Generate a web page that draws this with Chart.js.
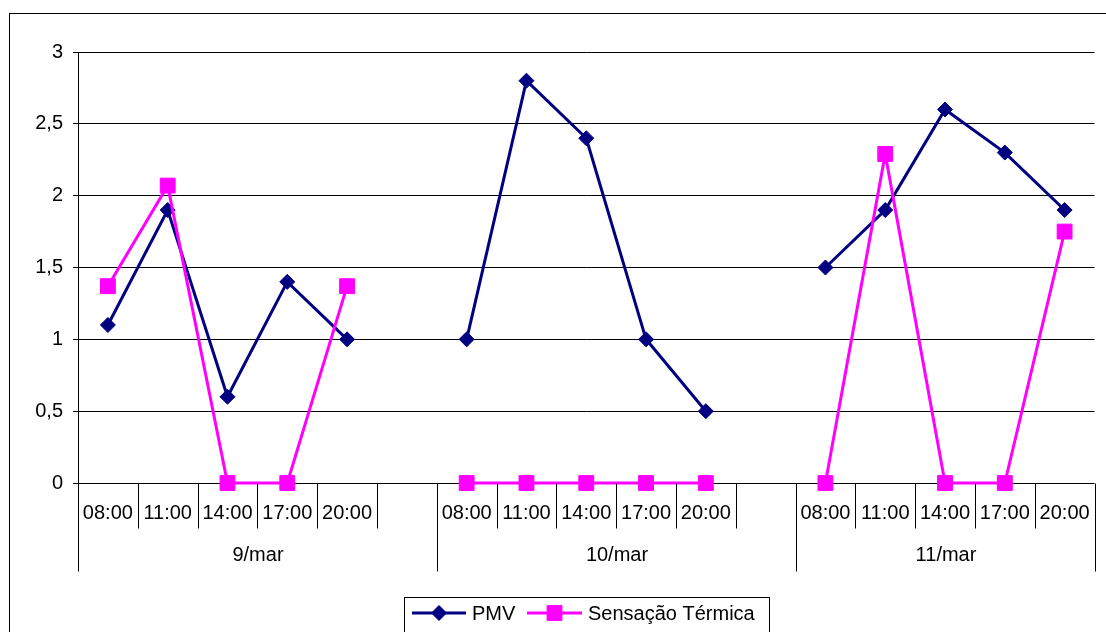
<!DOCTYPE html>
<html>
<head>
<meta charset="utf-8">
<script src="https://cdn.jsdelivr.net/npm/chart.js@4/dist/chart.umd.min.js"></script>
<style>
  html, body { margin: 0; padding: 0; background: #ffffff; }
  #wrap { width: 1106px; height: 632px; }
</style>
</head>
<body>
<div id="wrap"><canvas id="chart" width="1106" height="632"></canvas></div>
<script>
// Measurement times and days
const timeLabels = ['08:00', '11:00', '14:00', '17:00', '20:00'];
const dayLabels = ['9/mar', '10/mar', '11/mar'];

// PMV per day
const pmv9 = [1.1, 1.9, 0.6, 1.4, 1.0];
const pmv10 = [1.0, 2.8, 2.4, 1.0, 0.5];
const pmv11 = [1.5, 1.9, 2.6, 2.3, 1.9];

// Sensação térmica per day
const sens9 = [1.37, 2.07, 0, 0, 1.37];
const sens10 = [0, 0, 0, 0, 0];
const sens11 = [0, 2.29, 0, 0, 1.75];

// Y axis ticks
const yTicks = [0, 0.5, 1, 1.5, 2, 2.5, 3];

const FONT = '"Liberation Sans", Arial, sans-serif';

// Days are separated by one empty category slot
function joinDays(parts, gap) {
  const out = [];
  parts.forEach((p, i) => {
    out.push(...p);
    if (i < parts.length - 1) out.push(gap);
  });
  return out;
}
const categories = joinDays(dayLabels.map(d => timeLabels.map(t => d + ' ' + t)), '');
const pmvValues = joinDays([pmv9, pmv10, pmv11], null);
const sensValues = joinDays([sens9, sens10, sens11], null);

// Two-level category axis, frame and legend box
const excelFrame = {
  id: 'excelFrame',
  beforeDraw(chart) {
    const ctx = chart.ctx;
    ctx.save();
    ctx.fillStyle = '#ffffff';
    ctx.fillRect(0, 0, chart.width, chart.height);
    ctx.restore();
  },
  afterDraw(chart) {
    const ctx = chart.ctx;
    const x = chart.scales.x;
    const area = chart.chartArea;
    const step = x.getPixelForValue(1) - x.getPixelForValue(0);
    const base = Math.round(area.bottom) + 0.5;
    ctx.save();

    // outer frame
    ctx.strokeStyle = '#000000';
    ctx.lineWidth = 1;
    ctx.strokeRect(9.5, 13.5, 1200, 700);

    // category separators and labels
    ctx.font = '20px ' + FONT;
    ctx.fillStyle = '#000000';
    ctx.textAlign = 'center';
    ctx.textBaseline = 'middle';
    let idx = 0;
    const groupEdges = [Math.round(x.getPixelForValue(0) - step / 2) + 0.5];
    dayLabels.forEach((day, d) => {
      const start = idx;
      timeLabels.forEach(t => {
        const cx = x.getPixelForValue(idx);
        ctx.fillText(t, cx, base + 30);
        idx++;
      });
      const slots = d < dayLabels.length - 1 ? timeLabels.length + 1 : timeLabels.length;
      // separators inside the time row
      for (let k = 1; k < slots; k++) {
        const sx = Math.round(x.getPixelForValue(start + k) - step / 2) + 0.5;
        ctx.beginPath();
        ctx.moveTo(sx, base);
        ctx.lineTo(sx, base + 45);
        ctx.stroke();
      }
      const endIdx = start + slots - 1;
      const ex = Math.round(x.getPixelForValue(endIdx) + step / 2) + 0.5;
      groupEdges.push(ex);
      const left = groupEdges[d];
      ctx.fillText(day, (left + ex) / 2, base + 72);
      if (d < dayLabels.length - 1) idx++;
    });
    groupEdges.forEach(gx => {
      ctx.beginPath();
      ctx.moveTo(gx, base);
      ctx.lineTo(gx, base + 88);
      ctx.stroke();
    });

    // legend
    const ly = 613;
    ctx.strokeRect(404.5, 597.5, 365, 60);
    ctx.textAlign = 'left';
    const items = [
      { ds: chart.data.datasets[0], x0: 412, x1: 466, tx: 472 },
      { ds: chart.data.datasets[1], x0: 527, x1: 582, tx: 588 }
    ];
    items.forEach(it => {
      ctx.strokeStyle = it.ds.borderColor;
      ctx.lineWidth = 3;
      ctx.beginPath();
      ctx.moveTo(it.x0, ly);
      ctx.lineTo(it.x1, ly);
      ctx.stroke();
      ctx.fillStyle = it.ds.backgroundColor;
      ctx.strokeStyle = it.ds.borderColor;
      ctx.lineWidth = 1;
      Chart.helpers.drawPoint(ctx, {
        pointStyle: it.ds.pointStyle,
        radius: it.ds.pointRadius,
        borderWidth: 1
      }, (it.x0 + it.x1) / 2, ly);
      ctx.fillStyle = '#000000';
      ctx.fillText(it.ds.label, it.tx, ly + 1);
    });
    ctx.restore();
  }
};

new Chart(document.getElementById('chart'), {
  type: 'line',
  data: {
    labels: categories,
    datasets: [
      {
        label: 'PMV',
        data: pmvValues,
        borderColor: '#000080',
        backgroundColor: '#000080',
        borderWidth: 3,
        pointStyle: 'rectRot',
        pointRadius: 7.5,
        pointHoverRadius: 7.5,
        pointBorderWidth: 1,
        tension: 0,
        spanGaps: false,
        clip: false,
        order: 2
      },
      {
        label: 'Sensação Térmica',
        data: sensValues,
        borderColor: '#FF00FF',
        backgroundColor: '#FF00FF',
        borderWidth: 3,
        pointStyle: 'rect',
        pointRadius: 10.5,
        pointHoverRadius: 10.5,
        pointBorderWidth: 1,
        tension: 0,
        spanGaps: false,
        clip: false,
        order: 1
      }
    ]
  },
  options: {
    responsive: false,
    animation: false,
    events: [],
    layout: { padding: { top: 52, bottom: 149, left: 0, right: 11 } },
    plugins: {
      legend: { display: false },
      tooltip: { enabled: false }
    },
    scales: {
      x: {
        type: 'category',
        display: false,
        offset: true
      },
      y: {
        min: 0,
        max: 3,
        afterFit(scale) { scale.width = 78; },
        afterBuildTicks(scale) { scale.ticks = yTicks.map(v => ({ value: v })); },
        ticks: {
          color: '#000000',
          font: { family: FONT, size: 20 },
          padding: 10,
          callback: v => String(v).replace('.', ',')
        },
        grid: {
          color: '#000000',
          lineWidth: 1,
          tickLength: 5,
          drawTicks: true
        },
        border: { display: true, color: '#000000', width: 1 }
      }
    }
  },
  plugins: [excelFrame]
});
</script>
</body>
</html>
